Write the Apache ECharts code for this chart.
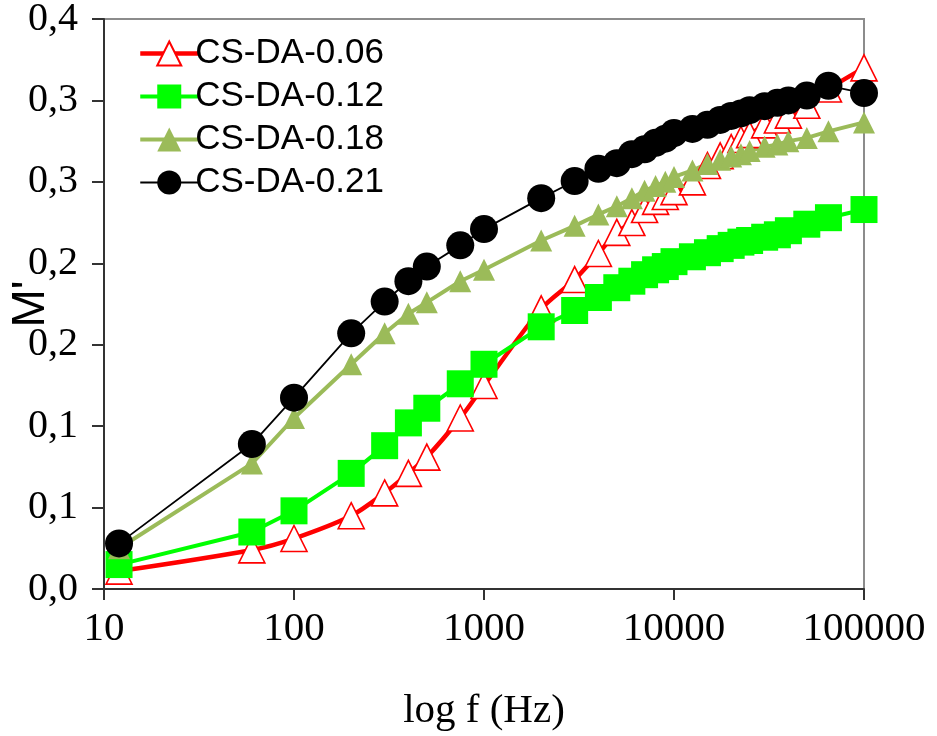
<!DOCTYPE html>
<html>
<head>
<meta charset="utf-8">
<title>M' vs log f</title>
<script src="https://cdn.jsdelivr.net/npm/echarts@6/dist/echarts.min.js"></script>
<style>
  html, body { margin: 0; padding: 0; background: #fff; }
  #chart { width: 937px; height: 736px; }
</style>
</head>
<body>
<div id="chart"></div>
<script>
// Measurement frequencies (Hz)
const freqHz = [12, 60, 100, 200, 300, 400, 500, 750, 1000, 2000, 3000, 4000, 5000, 6000, 7000, 8000, 9000,
  10000, 12500, 15000, 17500, 20000, 22500, 25000, 30000, 35000, 40000, 50000, 65000, 100000];

// Real part of the electric modulus, M'
const csda006 = [0.011, 0.024, 0.031, 0.045, 0.059, 0.071, 0.081, 0.105, 0.125, 0.172, 0.190, 0.206, 0.219, 0.225, 0.233, 0.238, 0.241,
  0.244, 0.250, 0.260, 0.266, 0.271, 0.276, 0.279, 0.285, 0.288, 0.291, 0.297, 0.307, 0.320];
const csda012 = [0.015, 0.035, 0.048, 0.071, 0.088, 0.102, 0.111, 0.126, 0.138, 0.161, 0.171, 0.179, 0.185, 0.189, 0.193, 0.196, 0.198,
  0.201, 0.204, 0.2065, 0.209, 0.211, 0.213, 0.214, 0.216, 0.2175, 0.220, 0.224, 0.228, 0.233];
const csda018 = [0.025, 0.077, 0.105, 0.138, 0.157, 0.169, 0.176, 0.189, 0.196, 0.214, 0.223, 0.230, 0.235, 0.240, 0.2445, 0.2475, 0.250,
  0.253, 0.257, 0.261, 0.2635, 0.2655, 0.267, 0.269, 0.2715, 0.273, 0.275, 0.277, 0.281, 0.2865];
const csda021 = [0.028, 0.089, 0.1175, 0.157, 0.1765, 0.189, 0.198, 0.211, 0.221, 0.240, 0.2505, 0.258, 0.2615, 0.267, 0.270, 0.274, 0.2765,
  0.280, 0.2825, 0.285, 0.288, 0.2905, 0.292, 0.294, 0.2965, 0.2985, 0.300, 0.303, 0.309, 0.3045];

const seriesNames = ['CS-DA-0.06', 'CS-DA-0.12', 'CS-DA-0.18', 'CS-DA-0.21'];
const lineWidths = [4.5, 4, 4, 1.8];

// Y tick labels, one decimal with comma separator (0 .. 0.35 step 0.05)
const yTickLabels = ['0,0', '0,1', '0,1', '0,2', '0,2', '0,3', '0,3', '0,4'];
const yStep = 0.05;

const pairs = vals => freqHz.map((f, i) => [f, vals[i]]);

const serif = '"Liberation Serif", "Times New Roman", serif';
const sans = '"Liberation Sans", Arial, sans-serif';

const chart = echarts.init(document.getElementById('chart'), null, { renderer: 'canvas' });

chart.setOption({
  animation: false,
  backgroundColor: '#fff',
  grid: {
    left: 104, right: 73, top: 19, bottom: 147,
    containLabel: false, outerBoundsMode: 'none',
    show: true, borderColor: '#8c8c8c', borderWidth: 2, backgroundColor: 'transparent'
  },
  legend: {
    orient: 'vertical',
    left: 133, top: 31,
    itemWidth: 58, itemHeight: 30, itemGap: 8,
    textStyle: { fontFamily: sans, fontSize: 35, color: '#000', lineHeight: 30, padding: [0, 0, 0, -8] },
    data: seriesNames.map((n, i) => ({ name: n, lineStyle: { width: lineWidths[i] } }))
  },
  xAxis: {
    type: 'log', logBase: 10, min: 10, max: 100000,
    name: 'log f (Hz)', nameLocation: 'middle', nameGap: 102,
    nameTextStyle: { fontFamily: serif, fontSize: 41, color: '#000' },
    axisLine: { onZero: false, lineStyle: { color: '#333', width: 2 } },
    axisTick: { show: true, inside: false, length: 11, lineStyle: { color: '#333', width: 2 } },
    minorTick: { show: false },
    axisLabel: {
      fontFamily: serif, fontSize: 41, color: '#000', margin: 20,
      formatter: v => String(Math.round(v))
    },
    splitLine: { show: false }
  },
  yAxis: {
    type: 'value', min: 0, max: 0.35, interval: yStep,
    name: "M'", nameLocation: 'middle', nameGap: 50, nameRotate: 90, nameMoveOverlap: false,
    nameTextStyle: { fontFamily: sans, fontSize: 46, color: '#000' },
    axisLine: { show: true, lineStyle: { color: '#333', width: 2 } },
    axisTick: { show: true, inside: false, length: 12, lineStyle: { color: '#333', width: 2 } },
    axisLabel: {
      fontFamily: serif, fontSize: 40, color: '#000', margin: 26,
      formatter: v => yTickLabels[Math.round(v / yStep)]
    },
    splitLine: { show: false }
  },
  series: [
    {
      name: seriesNames[0], type: 'line', data: pairs(csda006), smooth: 0.3,
      symbol: 'triangle', symbolSize: 26,
      lineStyle: { color: '#ff0000', width: lineWidths[0] },
      itemStyle: { color: '#ffffff', borderColor: '#ff0000', borderWidth: 1.6 }
    },
    {
      name: seriesNames[1], type: 'line', data: pairs(csda012),
      symbol: 'rect', symbolSize: 27,
      lineStyle: { color: '#00ff00', width: lineWidths[1] },
      itemStyle: { color: '#00ff00', borderWidth: 0 }
    },
    {
      name: seriesNames[2], type: 'line', data: pairs(csda018),
      symbol: 'triangle', symbolSize: 22,
      lineStyle: { color: '#9bbb59', width: lineWidths[2] },
      itemStyle: { color: '#9bbb59', borderWidth: 0 }
    },
    {
      name: seriesNames[3], type: 'line', data: pairs(csda021),
      symbol: 'circle', symbolSize: 28,
      lineStyle: { color: '#000000', width: lineWidths[3] },
      itemStyle: { color: '#000000', borderWidth: 0 }
    }
  ]
});
</script>
</body>
</html>
